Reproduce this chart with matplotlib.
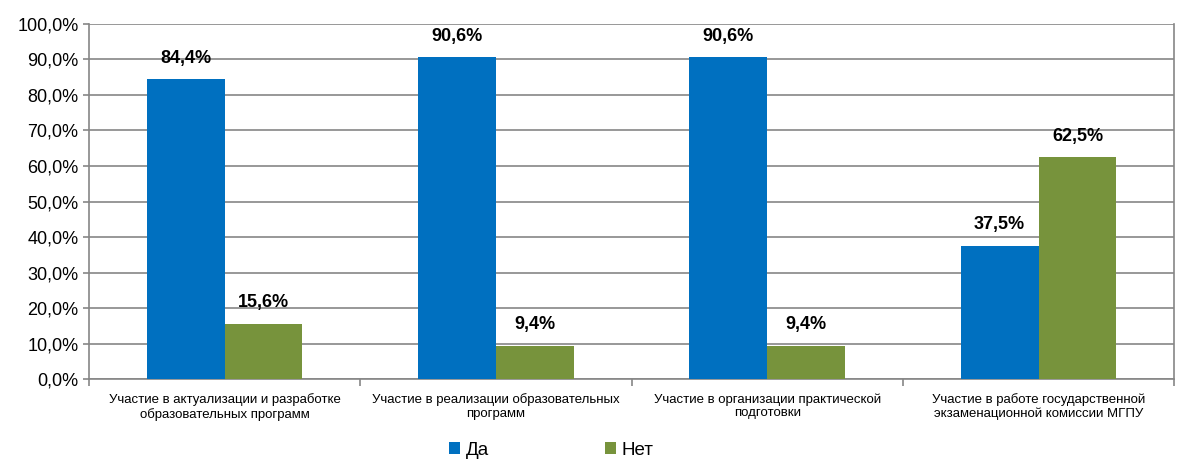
import numpy as np
import matplotlib.pyplot as plt
from matplotlib.ticker import FuncFormatter, FixedLocator

plt.rcParams['font.family'] = ['Liberation Sans', 'DejaVu Sans']

categories = ['Участие в актуализации и разработке\nобразовательных программ',
              'Участие в реализации образовательных\nпрограмм',
              'Участие в организации практической\nподготовки',
              'Участие в работе государственной\nэкзаменационной комиссии МГПУ']
da = [84.4, 90.6, 90.6, 37.5]
net = [15.6, 9.4, 9.4, 62.5]

fig = plt.figure(figsize=(11.77, 4.59), dpi=100)
ax = fig.add_axes([0.0756, 0.174, 0.922, 0.774])

x = np.arange(len(categories))
w = 0.287
b1 = ax.bar(x - w/2, da, w, color='#0070C0', label='Да', zorder=3)
b2 = ax.bar(x + w/2, net, w, color='#77933C', label='Нет', zorder=3)

for bars, vals in [(b1, da), (b2, net)]:
    for r, v in zip(bars, vals):
        ax.text(r.get_x() + r.get_width()/2, v + 3.5, ('%.1f%%' % v).replace('.', ','),
                ha='center', va='bottom', fontsize=13, fontweight='bold', zorder=4)

ax.set_ylim(0, 100)
ax.set_xlim(-0.5, 3.5)
ax.set_yticks(np.arange(0, 101, 10))
ax.yaxis.set_major_formatter(FuncFormatter(lambda v, p: ('%.1f%%' % v).replace('.', ',')))
ax.yaxis.grid(True, color='#868686', linewidth=1.2, zorder=0)
ax.tick_params(axis='y', labelsize=13, length=4, color='#868686', width=1.2)

ax.set_xticks(x)
ax.set_xticklabels(categories, fontsize=9.5)
ax.tick_params(axis='x', which='major', length=0, pad=10)
ax.xaxis.set_minor_locator(FixedLocator([-0.5, 0.5, 1.5, 2.5, 3.5]))
ax.tick_params(axis='x', which='minor', length=5, color='#868686', width=1.2)

ax.spines['top'].set_visible(False)
for s in ['left', 'bottom', 'right']:
    ax.spines[s].set_color('#868686')
    ax.spines[s].set_linewidth(1.2)

ax.legend(loc='center', bbox_to_anchor=(0.426, -0.2), ncol=2, frameon=False,
          fontsize=13.5, handlelength=0.6, handleheight=0.6, handletextpad=0.3,
          columnspacing=6.2)

fig.savefig('out.png', dpi=100)
